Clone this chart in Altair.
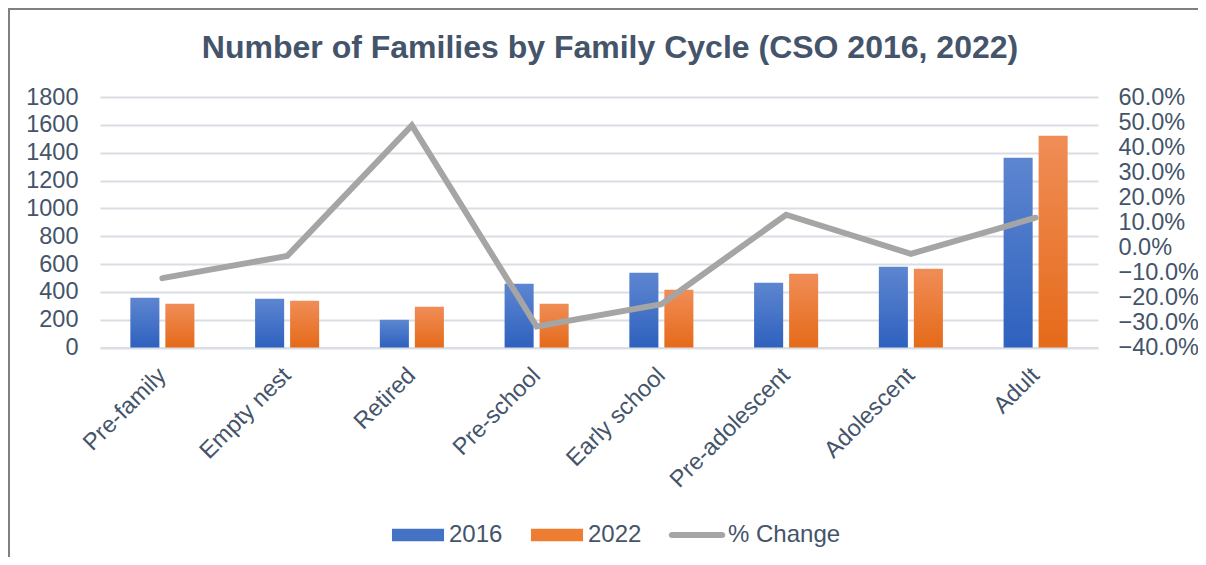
import altair as alt
import pandas as pd

categories = ["Pre-family", "Empty nest", "Retired", "Pre-school", "Early school",
              "Pre-adolescent", "Adolescent", "Adult"]
values_2016 = [357, 350, 199, 458, 537, 465, 580, 1364]
values_2022 = [314, 336, 293, 314, 415, 530, 566, 1522]
pct_change = [-0.123, -0.035, 0.487, -0.316, -0.227, 0.130, -0.026, 0.118]
series_names = ["2016", "2022", "% Change"]
left_ticks = [0, 200, 400, 600, 800, 1000, 1200, 1400, 1600, 1800]
right_ticks = [-0.4, -0.3, -0.2, -0.1, 0.0, 0.1, 0.2, 0.3, 0.4, 0.5, 0.6]

bars = pd.DataFrame({
    "category": categories * 2,
    "series": ["2016"] * len(categories) + ["2022"] * len(categories),
    "value": values_2016 + values_2022,
})
line = pd.DataFrame({
    "category": categories,
    "series": ["% Change"] * len(categories),
    "pct": pct_change,
})

FONT = "Liberation Sans"
TXT = "#44546A"
BLUE, ORANGE, GRAY = "#4472C4", "#ED7D31", "#A5A5A5"
AX_FS = 23.5

grad_blue = alt.Gradient(gradient="linear", x1=0, x2=0, y1=0, y2=1,
                         stops=[alt.GradientStop(color="#5D86D0", offset=0),
                                alt.GradientStop(color="#2E61BE", offset=1)])
grad_orange = alt.Gradient(gradient="linear", x1=0, x2=0, y1=0, y2=1,
                           stops=[alt.GradientStop(color="#F08D57", offset=0),
                                  alt.GradientStop(color="#E56A19", offset=1)])

W, H = 998, 250.5

x_enc = alt.X("category:N", sort=categories,
              scale=alt.Scale(paddingInner=0, paddingOuter=0),
              axis=alt.Axis(title=None, labelAngle=-45, labelAlign="right",
                            labelBaseline="middle", labelFontSize=AX_FS, labelFont=FONT,
                            labelColor=TXT, ticks=False, domain=True,
                            domainColor="#D9DEE5", domainWidth=2, labelPadding=24,
                            grid=False))

bar_layer = alt.Chart(bars).mark_bar().encode(
    x=x_enc,
    xOffset=alt.XOffset("series:N", sort=["2016", "2022"],
                        scale=alt.Scale(paddingInner=0.17, paddingOuter=0.867)),
    y=alt.Y("value:Q", scale=alt.Scale(domain=[0, 1800], nice=False),
            axis=alt.Axis(title=None, values=left_ticks, format="d", labelFontSize=AX_FS,
                          labelFont=FONT, labelColor=TXT, ticks=False, domain=False,
                          labelPadding=22, grid=True, gridColor="#D9DEE5",
                          gridWidth=2)),
    color=alt.condition(alt.datum.series == "2016", alt.value(grad_blue),
                        alt.value(grad_orange)),
)

y_pct = alt.Y("pct:Q", scale=alt.Scale(domain=[-0.4, 0.6], nice=False),
              axis=alt.Axis(title=None, orient="right", values=right_ticks,
                            format=".1%", labelFontSize=AX_FS, labelFont=FONT,
                            labelColor=TXT, ticks=False, domain=False,
                            labelPadding=20, grid=False))

line_layer = alt.Chart(line).mark_line(strokeWidth=6, strokeCap="round",
                                       strokeJoin="miter", color=GRAY).encode(
    x=alt.X("category:N", sort=categories),
    y=y_pct,
)

bar_path = "M-0.93,-0.22 L0.93,-0.22 L0.93,0.22 L-0.93,0.22 Z"
line_path = ("M-0.9,-0.11 L0.9,-0.11 A0.11,0.11 0 0 1 0.9,0.11 "
             "L-0.9,0.11 A0.11,0.11 0 0 1 -0.9,-0.11 Z")

leg = dict(title=None, orient="none", legendX=290, legendY=410,
           direction="horizontal", symbolSize=3136, labelFontSize=24,
           labelFont=FONT, labelColor=TXT, labelOffset=3, columnPadding=26,
           symbolOpacity=1, symbolStrokeWidth=0)

legend_layer = alt.Chart(line).mark_point(filled=True, opacity=0, size=3136).encode(
    x=alt.X("category:N", sort=categories),
    y=alt.Y("pct:Q", axis=None),
    color=alt.Color("series:N",
                    scale=alt.Scale(domain=series_names, range=[BLUE, ORANGE, GRAY]),
                    legend=alt.Legend(**leg)),
    shape=alt.Shape("series:N",
                    scale=alt.Scale(domain=series_names,
                                    range=[bar_path, bar_path, line_path]),
                    legend=alt.Legend(**leg)),
)

frame = alt.Chart(pd.DataFrame({"a": [0]})).mark_rect(
    filled=False, stroke="#808080", strokeWidth=2).encode(
    x=alt.value(-91), x2=alt.value(W + 130), y=alt.value(-88), y2=alt.value(H + 225))

chart = alt.layer(frame, bar_layer, line_layer, legend_layer).resolve_scale(
    y="independent"
).properties(
    width=W, height=H,
    padding={"left": 92, "top": 89, "right": 100, "bottom": 209},
    autosize=alt.AutoSizeParams(type="none"),
    title=alt.TitleParams("Number of Families by Family Cycle (CSO 2016, 2022)",
                          fontSize=32, font=FONT, fontWeight="bold", color=TXT,
                          anchor="middle", frame="group", offset=0, dy=57, dx=11),
).configure_view(stroke=None)

chart.save("out.html", embed_options={"renderer": "svg", "actions": False})
